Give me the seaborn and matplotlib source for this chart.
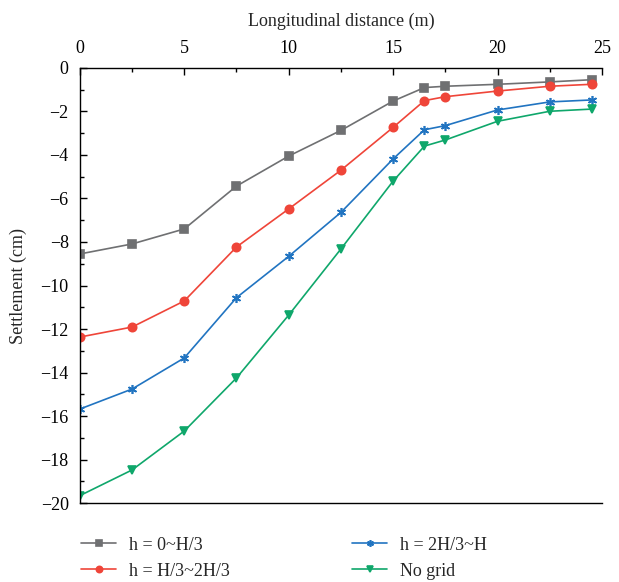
import pandas as pd
import matplotlib.pyplot as plt
import seaborn as sns
import numpy as np
from matplotlib.ticker import MultipleLocator

# data
distance = [0, 2.5, 5, 7.5, 10, 12.5, 15, 16.5, 17.5, 20, 22.5, 24.5]
h_0_h3 = [-8.55, -8.09, -7.40, -5.43, -4.05, -2.87, -1.52, -0.90, -0.84, -0.75, -0.64, -0.54]
h_h3_2h3 = [-12.37, -11.91, -10.71, -8.23, -6.48, -4.70, -2.73, -1.50, -1.32, -1.06, -0.84, -0.75]
h_2h3_h = [-15.68, -14.76, -13.33, -10.56, -8.66, -6.64, -4.18, -2.84, -2.65, -1.93, -1.56, -1.47]
no_grid = [-19.66, -18.48, -16.69, -14.25, -11.36, -8.32, -5.20, -3.59, -3.31, -2.45, -1.99, -1.89]
labels = ['h = 0~H/3', 'h = H/3~2H/3', 'h = 2H/3~H', 'No grid']

sns.set_style('ticks')
plt.rcParams['font.family'] = ['Liberation Serif', 'DejaVu Serif']

colors = ['#6f7072', '#ef4539', '#2174c1', '#0fa76b']
markers = ['s', 'o', (6, 2, 0), 'v']
msizes = [5.2, 6, 6.5, 6.2]

fig = plt.figure(figsize=(6.19, 5.82), dpi=100)
ax = fig.add_axes([0.129, 0.1357, 0.8435, 0.7475])

for vals, lab, c, m, ms in zip([h_0_h3, h_h3_2h3, h_2h3_h, no_grid], labels, colors, markers, msizes):
    sns.lineplot(x=distance, y=vals, label=lab, color=c, marker=m,
                 markersize=ms, markeredgewidth=1.2, markeredgecolor=c,
                 linewidth=1.2, ax=ax)

ax.set_xlim(0, 25)
ax.set_ylim(-20, 0)
ax.xaxis.set_major_locator(MultipleLocator(5))
ax.xaxis.set_minor_locator(MultipleLocator(2.5))
ax.yaxis.set_major_locator(MultipleLocator(2))
ax.yaxis.set_minor_locator(MultipleLocator(1))
ax.xaxis.tick_top()
ax.xaxis.set_label_position('top')
ax.tick_params(which='both', direction='in', labelsize=13, width=1, colors='black')
ax.tick_params(which='major', length=5)
ax.tick_params(which='minor', length=3)
ax.tick_params(axis='x', pad=8)
ax.tick_params(axis='y', pad=8)
ax.set_xlabel('Longitudinal distance (m)', fontsize=13, labelpad=10)
ax.set_ylabel('Settlement (cm)', fontsize=13, labelpad=10)
ax.spines['right'].set_visible(False)
for s in ['top', 'left', 'bottom']:
    ax.spines[s].set_linewidth(1)
    ax.spines[s].set_color('black')

handles, labs = ax.get_legend_handles_labels()
ax.legend(handles, labs, ncol=2, frameon=False, fontsize=13,
          loc='upper left', bbox_to_anchor=(0.105, 0.106),
          bbox_transform=fig.transFigure, handlelength=1.95, markerscale=0.75,
          columnspacing=6.75, labelspacing=0.5, handletextpad=0.72)

fig.savefig('out.png', dpi=100)
